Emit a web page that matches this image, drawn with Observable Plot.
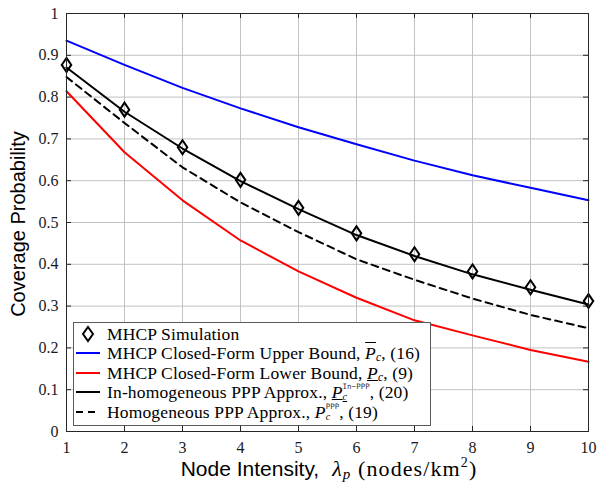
<!DOCTYPE html>
<html>
<head>
<meta charset="utf-8">
<script src="https://cdn.jsdelivr.net/npm/d3@7"></script>
<script src="https://cdn.jsdelivr.net/npm/@observablehq/plot@0.6"></script>
<style>
  html, body { margin: 0; padding: 0; background: white; }
  #wrap { position: relative; width: 597px; height: 487px; overflow: hidden; }
  .lbl { position: absolute; white-space: nowrap; color: #000; }
  .sans { font-family: "Liberation Sans", Arial, sans-serif; }
  .serif { font-family: "Liberation Serif", "Times New Roman", serif; }
  #legend { position: absolute; left: 73px; top: 322px; width: 356px; height: 102px;
            background: white; border: 1px solid #5a5a5a; font-family: "Liberation Serif", serif;
            font-size: 17.5px; color: #000; letter-spacing: 0.15px; }
  .row { position: absolute; left: 0; height: 20px; width: 100%; }
  .row svg { position: absolute; left: 0; top: 0; }
  .row .t { position: absolute; left: 33px; top: 0; line-height: 20px; white-space: nowrap; }
  .it { font-style: italic; }
  .sb { font-size: 0.66em; font-style: italic; position: relative; top: 0.2em; line-height: 1; }
  .stack { display: inline-flex; flex-direction: column; vertical-align: top; padding-top: 1px; }
  .stack .sp2 { font-family: "DejaVu Sans Mono", monospace; font-size: 7.5px; color: #333; letter-spacing: 0; line-height: 8px; height: 8px; }
  .stack .sb2 { font-size: 10px; font-style: italic; line-height: 11px; height: 11px; }
  .ol { text-decoration: overline; }
  .ul { text-decoration: underline; }
</style>
</head>
<body>
<div id="wrap"></div>
<script>
// ---- data ----
const lambdaP = [1, 2, 3, 4, 5, 6, 7, 8, 9, 10];
const mhcpSimulation = [0.877, 0.770, 0.680, 0.602, 0.535, 0.474, 0.424, 0.383, 0.345, 0.312];
const upperBound     = [0.935, 0.877, 0.822, 0.773, 0.728, 0.687, 0.648, 0.613, 0.583, 0.553];
const lowerBound     = [0.814, 0.668, 0.553, 0.457, 0.383, 0.320, 0.266, 0.230, 0.195, 0.167];
const inhomPPP       = [0.871, 0.765, 0.677, 0.599, 0.532, 0.470, 0.420, 0.376, 0.339, 0.304];
const homPPP         = [0.848, 0.738, 0.632, 0.548, 0.477, 0.412, 0.363, 0.318, 0.279, 0.247];
const xTicks = [1, 2, 3, 4, 5, 6, 7, 8, 9, 10];
const yTicks = [0, 0.1, 0.2, 0.3, 0.4, 0.5, 0.6, 0.7, 0.8, 0.9, 1];
const yTickLabels = ["0", "0.1", "0.2", "0.3", "0.4", "0.5", "0.6", "0.7", "0.8", "0.9", "1"];

const toRows = arr => lambdaP.map((x, i) => ({x, y: arr[i]}));

// tall diamond (MATLAB 'd' marker)
const tallDiamond = {
  draw(ctx, size) {
    const r = Math.sqrt(size / Math.PI);
    const w = r * 0.68;
    ctx.moveTo(0, -r);
    ctx.lineTo(w, 0);
    ctx.lineTo(0, r);
    ctx.lineTo(-w, 0);
    ctx.closePath();
  }
};

const W = 597, H = 487, mL = 66, mR = 9, mT = 13, mB = 56;
const pxY = (H - mT - mB), pxX = (W - mL - mR);
const tl = 5; // tick length in px
const dyTick = tl / pxY * 1, dxTick = tl / pxX * 9;

const chart = Plot.plot({
  width: W, height: H,
  marginLeft: mL, marginRight: mR, marginTop: mT, marginBottom: mB,
  style: {fontFamily: "'Liberation Serif', serif", fontSize: "16px", background: "white", color: "#1a1a1a"},
  x: {domain: [1, 10], ticks: xTicks, tickSize: 0, tickPadding: 10, label: null, tickFormat: d => String(d)},
  y: {domain: [0, 1], ticks: yTicks, tickSize: 0, tickPadding: 8, label: null,
      tickFormat: d => yTickLabels[yTicks.findIndex(v => Math.abs(v - d) < 1e-9)]},
  marks: [
    Plot.ruleX(xTicks, {x: d => d, stroke: "#c2c2c2", strokeWidth: 1}),
    Plot.ruleY(yTicks, {y: d => d, stroke: "#c2c2c2", strokeWidth: 1}),
    // inward ticks on all four sides
    Plot.ruleX(xTicks, {x: d => d, y1: 0, y2: dyTick, stroke: "#262626"}),
    Plot.ruleX(xTicks, {x: d => d, y1: 1, y2: 1 - dyTick, stroke: "#262626"}),
    Plot.ruleY(yTicks, {y: d => d, x1: 1, x2: 1 + dxTick, stroke: "#262626"}),
    Plot.ruleY(yTicks, {y: d => d, x1: 10, x2: 10 - dxTick, stroke: "#262626"}),
    Plot.line(toRows(upperBound), {x: "x", y: "y", stroke: "#0000ff", strokeWidth: 2}),
    Plot.line(toRows(lowerBound), {x: "x", y: "y", stroke: "#ff0000", strokeWidth: 2}),
    Plot.line(toRows(homPPP), {x: "x", y: "y", stroke: "#000", strokeWidth: 2, strokeDasharray: "7,5"}),
    Plot.line(toRows(inhomPPP), {x: "x", y: "y", stroke: "#000", strokeWidth: 2}),
    Plot.dot(toRows(mhcpSimulation), {x: "x", y: "y", symbol: tallDiamond, r: 7, stroke: "#000", strokeWidth: 2, fill: "none"}),
    Plot.frame({stroke: "#262626", strokeWidth: 1})
  ]
});

const wrap = document.getElementById("wrap");
wrap.appendChild(chart);

// axis labels
const xl = document.createElement("div");
xl.className = "lbl";
xl.style.left = "329px";
xl.style.top = "456px";
xl.style.transform = "translateX(-50%)";
xl.innerHTML = '<span class="sans" style="font-size:21px">Node Intensity,</span>' +
  '<span class="serif" style="font-size:22px;letter-spacing:1.1px;margin-left:13px"><span class="it">λ</span><span class="sb" style="font-size:15px">p</span> (nodes/km<sup style="font-size:14px;position:relative;top:-0.05em;line-height:1">2</sup>)</span>';
wrap.appendChild(xl);

const yl = document.createElement("div");
yl.className = "lbl sans";
yl.style.fontSize = "20px";
yl.style.left = "18px";
yl.style.top = "224px";
yl.style.transform = "translate(-50%, -50%) rotate(-90deg)";
yl.textContent = "Coverage Probability";
wrap.appendChild(yl);

// legend
const legendEntries = [
  {kind: "marker", html: "MHCP Simulation"},
  {kind: "line", color: "#0000ff", dash: null,
   html: 'MHCP Closed-Form Upper Bound, <span class="ol"><span class="it">P</span></span><span class="sb">c</span>, (16)'},
  {kind: "line", color: "#ff0000", dash: null,
   html: 'MHCP Closed-Form Lower Bound, <span class="ul"><span class="it">P</span><span class="sb">c</span></span>, (9)'},
  {kind: "line", color: "#000", dash: null,
   html: 'In-homogeneous PPP Approx., <span class="ul"><span class="it">P</span></span><span class="stack"><span class="sp2">In−PPP</span><span class="sb2 ul">c</span></span>, (20)'},
  {kind: "line", color: "#000", dash: "7,5",
   html: 'Homogeneous PPP Approx., <span class="it">P</span><span class="stack"><span class="sp2">PPP</span><span class="sb2">c</span></span>, (19)'}
];
const leg = document.createElement("div");
leg.id = "legend";
legendEntries.forEach((e, i) => {
  const row = document.createElement("div");
  row.className = "row";
  row.style.top = (0.5 + i * 19.6) + "px";
  let sym;
  if (e.kind === "marker") {
    sym = '<svg width="30" height="20"><path d="M14,3 L19,10 L14,17 L9,10 Z" fill="none" stroke="#000" stroke-width="2"/></svg>';
  } else {
    sym = `<svg width="30" height="20"><line x1="2" y1="10" x2="26" y2="10" stroke="${e.color}" stroke-width="2" ${e.dash ? `stroke-dasharray="${e.dash}"` : ""}/></svg>`;
  }
  row.innerHTML = sym + `<span class="t">${e.html}</span>`;
  leg.appendChild(row);
});
wrap.appendChild(leg);
</script>
</body>
</html>
